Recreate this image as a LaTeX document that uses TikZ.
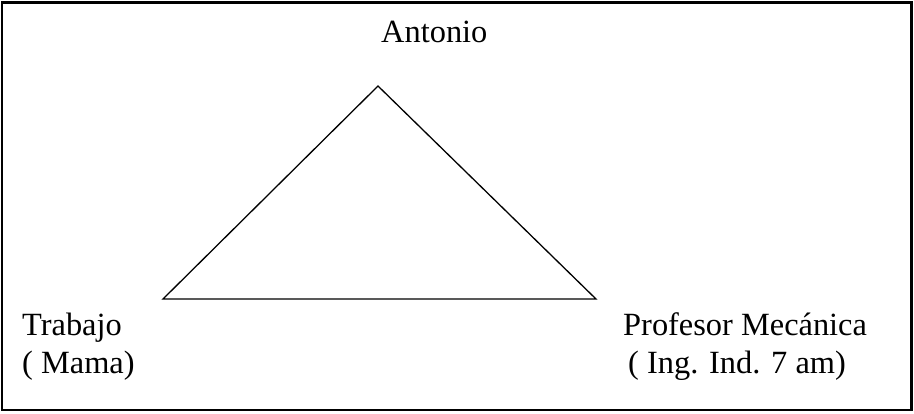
\documentclass[tikz,border=0pt]{standalone}
\usepackage{fontspec}
\setmainfont{Liberation Serif}
\begin{document}
\begin{tikzpicture}[x=1pt,y=-1pt,
  lbl/.style={anchor=base west,inner sep=0pt,font=\fontsize{32.4}{38}\selectfont},
  edge/.style={draw=black,line width=1.3pt}]
\useasboundingbox (0,0) rectangle (914,413);
\draw[line width=2.2pt] (2,2.5) rectangle (911.5,410);
\node[lbl] (ant) at (381,42) {Antonio};
\node[lbl] (tra) at (22,335) {Trabajo};
\node[lbl] (mam) at (22,373) {( Mama)};
\node[lbl] (pro) at (623,335) {Profesor Mecánica};
\node[lbl] (ing) at (628,373) {( Ing. Ind. 7 am)};
\coordinate (A) at (378,86);
\coordinate (B) at (163,299);
\coordinate (C) at (596,299);
\draw[edge,line join=miter] (A) -- (B) -- (C) -- cycle;
\end{tikzpicture}
\end{document}
